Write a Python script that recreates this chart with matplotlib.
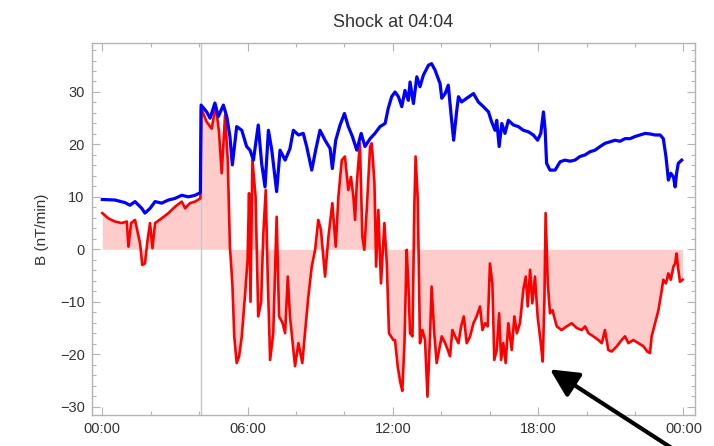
import matplotlib
matplotlib.use('Agg')
import matplotlib.pyplot as plt
from matplotlib.ticker import MultipleLocator, FuncFormatter

plt.rcParams['font.family'] = ['Liberation Sans', 'DejaVu Sans']

# --- data (hours since 00:00, nT/min) ---
shock_time = 4 + 4 / 60
title = 'Shock at 04:04'
ylabel = 'B (nT/min)'

blue_t = [
    0.00, 0.52, 0.94, 1.14, 1.35, 1.63, 1.76, 1.97, 2.18, 2.45, 2.73, 3.00, 3.28, 3.55, 3.83, 4.05,
    4.08, 4.31, 4.45, 4.65, 4.79, 5.00, 5.14, 5.27, 5.37, 5.55, 5.76, 5.96,
    6.10, 6.24, 6.44, 6.58, 6.72, 6.86, 7.00, 7.20, 7.34, 7.55, 7.75, 7.89, 8.10, 8.30, 8.44, 8.65,
    8.81, 8.99, 9.20, 9.41, 9.50, 9.64, 9.82, 10.00, 10.16, 10.33, 10.51, 10.69, 10.85, 11.06, 11.26,
    11.47, 11.68, 11.81, 11.95,
    12.09, 12.23, 12.37, 12.50, 12.64, 12.71, 12.85, 12.99, 13.12, 13.26, 13.47, 13.60, 13.74, 13.95,
    14.02, 14.16, 14.29, 14.40, 14.51, 14.64, 14.71, 14.84, 15.05, 15.33, 15.53, 15.74, 15.95, 16.08,
    16.22, 16.29, 16.39, 16.50, 16.63, 16.77, 16.98, 17.18, 17.39, 17.60, 17.80, 17.98, 18.11, 18.22,
    18.29, 18.35, 18.49, 18.70,
    18.91, 19.11, 19.32, 19.52, 19.73, 19.94, 20.14, 20.35, 20.56, 20.76, 20.97, 21.18, 21.38, 21.59,
    21.80, 22.00, 22.21, 22.42, 22.62, 22.83, 23.04, 23.17, 23.28, 23.38, 23.48, 23.59, 23.66, 23.72,
    23.79, 23.93,
]
blue_b = [
    9.5, 9.4, 8.9, 8.4, 9.1, 7.8, 6.9, 7.8, 9.1, 8.8, 9.4, 9.7, 10.3, 10.0, 10.3, 10.8,
    27.5, 26.2, 25.0, 27.9, 25.3, 27.5, 25.3, 21.5, 16.1, 23.4, 22.7, 19.6,
    18.9, 17.0, 23.7, 16.4, 11.9, 22.7, 18.9, 11.0, 18.9, 17.0, 19.2, 22.7, 21.8, 22.1, 19.6, 15.1,
    18.9, 22.7, 20.8, 19.2, 15.4, 20.8, 23.7, 25.9, 23.4, 21.5, 18.9, 22.1, 19.6, 21.1, 22.1,
    23.4, 24.0, 26.9, 29.1,
    30.0, 29.1, 27.2, 30.3, 28.4, 31.9, 27.8, 32.9, 31.0, 33.2, 35.1, 35.4, 34.2, 31.6,
    28.8, 29.7, 31.3, 25.9, 20.8, 26.5, 29.1, 28.1, 28.8, 29.7, 28.1, 27.2, 26.2, 24.3,
    22.7, 24.6, 19.6, 24.0, 22.1, 24.6, 23.7, 23.4, 22.7, 22.4, 21.8, 20.8, 22.1, 26.2,
    22.7, 16.4, 15.1, 15.1,
    16.7, 17.0, 16.8, 17.0, 17.7, 18.0, 18.6, 18.9, 19.6, 20.2, 20.5, 20.8, 20.6, 21.1,
    21.1, 21.5, 21.8, 22.1, 22.0, 21.8, 21.8, 21.1, 17.7, 13.2, 14.5, 13.8, 11.9, 14.5,
    16.4, 17.0,
]

red_t = [
    0.00, 0.25, 0.52, 0.80, 1.01, 1.08, 1.19, 1.35, 1.56, 1.65, 1.76, 1.87, 1.97, 2.07, 2.18, 2.45,
    2.73, 3.00, 3.28, 3.42, 3.62, 3.83, 4.05,
    4.08, 4.31, 4.52, 4.68, 4.82, 4.93, 5.07, 5.18, 5.27, 5.37, 5.45, 5.55, 5.65, 5.76, 5.89, 6.00,
    6.06, 6.12, 6.20, 6.33, 6.44, 6.56, 6.65, 6.75, 6.83, 6.93, 7.06, 7.20, 7.30, 7.44, 7.55, 7.66,
    7.75, 7.89, 7.96, 8.10, 8.26, 8.37, 8.51, 8.65, 8.79, 8.92, 9.03, 9.20, 9.34, 9.50, 9.64, 9.75,
    9.89, 10.02, 10.16, 10.27, 10.37, 10.44, 10.51, 10.64, 10.74, 10.82, 10.92, 11.06, 11.13, 11.24,
    11.31, 11.40, 11.51, 11.65, 11.75, 11.84, 12.02,
    12.09, 12.20, 12.30, 12.39, 12.48, 12.57, 12.64, 12.71, 12.81, 12.89, 12.94, 13.03, 13.12, 13.22,
    13.33, 13.43, 13.54, 13.60, 13.71, 13.81, 13.91, 14.02, 14.16, 14.27, 14.36, 14.46, 14.57, 14.71,
    14.82, 14.93, 15.05, 15.19, 15.33, 15.46, 15.60, 15.70, 15.81, 15.92, 16.01, 16.11, 16.19, 16.29,
    16.39, 16.47, 16.56, 16.66, 16.77, 16.91, 17.02, 17.12, 17.25, 17.39, 17.49, 17.57, 17.67, 17.76,
    17.87, 17.98, 18.11, 18.19, 18.26, 18.31, 18.40, 18.49, 18.59,
    18.77, 18.97, 19.18, 19.39, 19.59, 19.80, 19.94, 20.08, 20.28, 20.49, 20.63, 20.76, 20.90, 21.04,
    21.25, 21.45, 21.59, 21.73, 21.93, 22.14, 22.35, 22.51, 22.62, 22.69, 22.83, 22.97, 23.11, 23.17,
    23.28, 23.38, 23.48, 23.59, 23.66, 23.72, 23.79, 23.86, 23.97,
]
red_b = [
    6.9, 5.9, 5.3, 5.0, 5.3, 0.5, 5.0, 5.6, 1.1, -3.0, -2.7, 1.8, 5.0, 0.2, 5.0, 5.9,
    6.9, 8.1, 9.1, 7.8, 8.8, 9.1, 9.7,
    26.9, 24.3, 23.0, 27.5, 22.4, 14.5, 25.6, 17.0, 0.5, -6.5, -16.6, -21.7, -20.4, -16.6, -9.0, -2.0,
    10.7, -10.0, 17.0, 10.0, -12.8, -10.0, 3.0, 11.3, -5.0, -21.1, -16.0, 6.2, -12.8, -14.0, -16.0, -5.2,
    -12.8, -19.2, -22.3, -17.9, -21.7, -16.0, -9.0, -3.3, -0.1, 5.6, 3.7, -5.2, 2.4, 8.8, 0.5, 10.0,
    17.0, 17.7, 11.3, 13.8, 10.0, 5.6, 12.6, 20.2, 2.4, -0.1, 7.5, 19.6, 20.2, 12.6,
    -3.3, 7.5, -6.5, 5.0, -2.7, -16.0, -17.3,
    -17.3, -22.3, -25.2, -27.0, -17.9, -0.1, -6.5, -16.0, -16.6, 8.8, 17.7, 9.4, -17.9, -15.4,
    -17.3, -28.1, -16.0, -7.1, -16.0, -21.7, -19.2, -16.6, -17.9, -19.2, -20.4, -15.4, -16.6, -17.9,
    -14.7, -12.8, -17.9, -16.6, -14.1, -12.8, -10.9, -15.4, -14.1, -14.7, -2.7, -6.5, -21.1, -19.2,
    -12.2, -21.1, -17.9, -21.7, -14.1, -19.2, -12.8, -16.0, -14.1, -7.7, -5.2, -10.9, -3.9, -10.3,
    -5.2, -12.8, -17.9, -21.4, -9.7, 6.9, -6.5, -12.2, -11.6,
    -14.7, -15.4, -14.7, -14.1, -15.0, -15.4, -14.7, -16.0, -16.6, -17.3, -17.9, -15.4, -19.2, -19.5,
    -18.5, -17.3, -16.6, -17.9, -17.3, -17.9, -18.5, -19.5, -19.8, -16.6, -14.1, -11.6, -7.7, -5.8,
    -6.5, -4.6, -5.8, -3.3, -2.7, -0.8, -3.9, -6.2, -5.8,
]

# arrow tip (points at the dip before the 18:18 spike)
arrow_tip = (18.49, -22.9)


def hhmm(h, _pos):
    hh = int(round(h)) % 24
    mm = int(round((h - round(h)) * 60)) % 60
    return f'{hh:02d}:{mm:02d}'


def main():
    frame_color = '#b4b4b4'
    text_color = '#333333'

    fig = plt.figure(figsize=(7.14, 4.46), dpi=100)
    ax = fig.add_axes([0.1284, 0.0695, 0.845, 0.8348])

    ax.fill_between(red_t, red_b, 0, color='#ffcccc', lw=0, zorder=1)
    ax.axvline(shock_time, color='#c8c8c8', lw=1, zorder=1.5)
    ax.plot(blue_t, blue_b, color='#0000ff', lw=2.3, zorder=3)
    ax.plot(red_t, red_b, color='#ff0000', lw=1.9, zorder=2)

    ax.set_xlim(-0.44, 24.48)
    ax.set_ylim(-31.6, 39.4)

    ax.xaxis.set_major_locator(MultipleLocator(6))
    ax.xaxis.set_minor_locator(MultipleLocator(2))
    ax.xaxis.set_major_formatter(FuncFormatter(hhmm))
    ax.yaxis.set_major_locator(MultipleLocator(10))
    ax.yaxis.set_minor_locator(MultipleLocator(2))

    for sp in ax.spines.values():
        sp.set_color(frame_color)
        sp.set_linewidth(1)
    ax.tick_params(which='both', direction='in', top=True, right=True,
                   color=frame_color, labelcolor=text_color, labelsize=10.5)
    ax.tick_params(which='major', length=6, width=0.8, pad=5)
    ax.tick_params(which='minor', length=3, width=0.8)

    ax.set_title(title, fontsize=13, color=text_color, pad=11)
    ax.set_ylabel(ylabel, fontsize=11, color=text_color, labelpad=8)

    ax.annotate('', xy=arrow_tip, xycoords='data',
                xytext=(0.975, -0.04), textcoords='figure fraction',
                arrowprops=dict(arrowstyle='-|>,head_length=1.7,head_width=0.85',
                                color='black', lw=3, shrinkA=0, shrinkB=0,
                                mutation_scale=10),
                annotation_clip=False, zorder=5)

    fig.savefig('out.png', dpi=100)


if __name__ == '__main__':
    main()
